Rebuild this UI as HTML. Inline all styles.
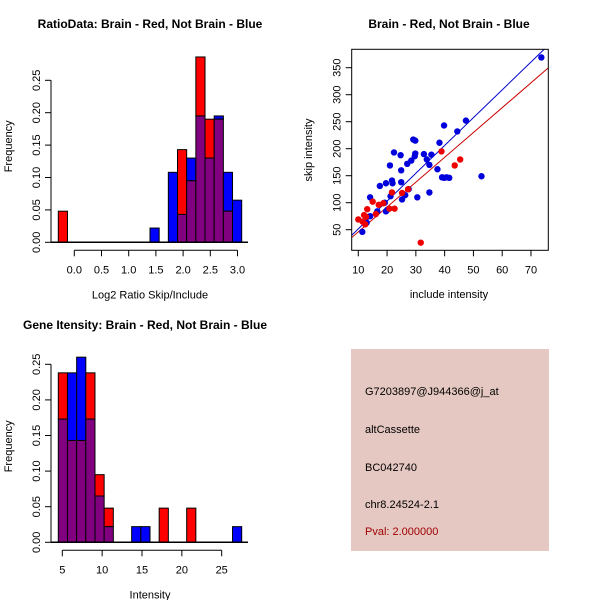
<!DOCTYPE html>
<html><head><meta charset="utf-8"><style>
body{margin:0;background:#fff}
svg{display:block;font-family:"Liberation Sans",sans-serif}
</style></head><body>
<svg id="chart" width="600" height="600" xmlns="http://www.w3.org/2000/svg">
<rect width="600" height="600" fill="#fff"/>
<g id="p1"></g>
<g id="p2"></g>
<g id="p3"></g>
<g>
<rect x="351" y="349" width="198" height="202" fill="#e6c8c2"/>
<g font-size="11" fill="#000">
<text x="365" y="395">G7203897@J944366@j_at</text>
<text x="365" y="433">altCassette</text>
<text x="365" y="471">BC042740</text>
<text x="365" y="508">chr8.24524-2.1</text>
<text x="365" y="535" fill="#a00000">Pval: 2.000000</text>
</g></g>
</svg>
<script>
// Ratio histogram data (bin index -> frequency)
const ratioBins = [0,1,2,3,4,5,6,7,8,9,10,11,12,13,14,15,16,17,18,19];
const ratioRed = [0.048,0,0,0,0,0,0,0,0,0,0,0,0,0.143,0.095,0.286,0.19,0.19,0.048,0];
const ratioBlue = [0,0,0,0,0,0,0,0,0,0,0.022,0,0.108,0.043,0.130,0.195,0.13,0.195,0.108,0.065];
const ratioXTicks = [0,0.5,1,1.5,2,2.5,3];
const ratioXTickLabels = ["0.0","0.5","1.0","1.5","2.0","2.5","3.0"];
const freqTicks = [0,0.05,0.1,0.15,0.2,0.25];
const freqTickLabels = ["0.00","0.05","0.10","0.15","0.20","0.25"];
// Intensity histogram data
const intBins = [0,1,2,3,4,5,6,7,8,9,10,11,12,13,14,15,16,17,18,19];
const intRed = [0.238,0.143,0.143,0.238,0.095,0.048,0,0,0,0,0,0.048,0,0,0.048,0,0,0,0,0];
const intBlue = [0.173,0.238,0.26,0.173,0.065,0.022,0,0,0.022,0.022,0,0,0,0,0,0,0,0,0,0.022];
const intXTicks = [5,10,15,20,25];
// Scatter data
const blueX = [11.4,14.1,16.6,17.5,19.6,19.6,20.1,21,21.7,21.9,22.4,21.2,24.7,24.9,24.9,25.2,26.3,27,28.4,29.1,29.8,29.6,29.8,30.5,32.8,33.8,34.7,34.7,35.4,37.5,38.2,39.1,39.8,39.8,40.7,41.6,44.4,47.4,52.8,73.6,27.5,14.1,12.9,19.2];
const blueY = [46,110,84,131,136,84,87,169,141,136,193,112,188,160,138,106,114,172,178,217,215,186,191,110,190,180,170,119,189,162,211,147,243,146,147,146,232,252,149,369,125,75,63,100];
const redX = [10,11.5,12,12.7,13.1,15,16.1,17.1,18.7,20.8,22.6,21.7,25.2,27.3,31.7,38.9,43.5,45.4,12.4];
const redY = [69,65,77,74,88,102,79,96,99,89,89,119,118,125,26,195,169,180,60];
const blueSlope = [5.15];
const redSlope = [4.6];
const scXTicks = [10,20,30,40,50,60,70];
const scYTicks = [50,100,150,200,250,300,350];

const NS="http://www.w3.org/2000/svg";
function mk(parent,tag,attrs,txt){const e=document.createElementNS(NS,tag);for(const k in attrs)e.setAttribute(k,attrs[k]);if(txt!==undefined)e.textContent=txt;parent.appendChild(e);return e;}

function hist(g,o){
  const bx=i=>o.x0+i*o.bw;
  const yv=v=>o.y0-v*o.ys;
  for(let i=0;i<o.bins.length;i++){
    const b=o.bins[i],r=o.red[i],u=o.blue[i];
    const mn=Math.min(r,u),mx=Math.max(r,u);
    if(mx>0&&mx>mn){
      const e=mk(g,'rect',{x:bx(b),y:yv(mx),width:o.bw,height:yv(mn)-yv(mx),fill:r>u?'#ff0000':'#0000ff',stroke:'#000','stroke-width':1});
      
      
    }
    if(mn>0){
      const e=mk(g,'rect',{x:bx(b),y:yv(mn),width:o.bw,height:yv(0)-yv(mn),fill:'#800080',stroke:'#000','stroke-width':1});
      
      
    }
  }
  const base=mk(g,'line',{x1:51,x2:248,y1:o.y0,y2:o.y0,stroke:'#000','stroke-width':1.5});
  
  
  // y axis
  const ya=mk(g,'g',{});
  
  
  mk(ya,'line',{x1:51,x2:51,y1:yv(0),y2:yv(freqTicks[freqTicks.length-1]),stroke:'#000'});
  freqTicks.forEach((t,i)=>{
    mk(ya,'line',{x1:45,x2:51,y1:yv(t),y2:yv(t),stroke:'#000'});
    const tx=mk(ya,'text',{x:0,y:0,'font-size':11,'text-anchor':'middle',transform:`translate(40,${yv(t)}) rotate(-90)`},freqTickLabels[i]);
    
    
  });
  // x axis
  const xa=mk(g,'g',{});
  
  
  const xv=v=>o.xa+(v-o.xt[0])*o.xs;
  const ay=o.y0+8;
  mk(xa,'line',{x1:xv(o.xt[0]),x2:xv(o.xt[o.xt.length-1]),y1:ay,y2:ay,stroke:'#000'});
  o.xt.forEach((t,i)=>{
    mk(xa,'line',{x1:xv(t),x2:xv(t),y1:ay,y2:ay+6,stroke:'#000'});
    const tx=mk(xa,'text',{x:xv(t),y:ay+23,'font-size':11,'text-anchor':'middle'},o.xl[i]);
    
    
  });
  const xt=mk(g,'text',{x:150,y:ay+48,'font-size':11,'text-anchor':'middle'},o.xlabel);
  
  
  const yt=mk(g,'text',{x:0,y:0,'font-size':11,'text-anchor':'middle',transform:`translate(12,${o.y0-96}) rotate(-90)`},'Frequency');
  
  
  const tt=mk(g,'text',{x:o.tx,y:o.ty,'font-size':12,'font-weight':'bold','text-anchor':'middle'},o.title);
  
  
}

hist(document.getElementById('p1'),{bins:ratioBins,red:ratioRed,blue:ratioBlue,x0:58.3,bw:9.17,y0:242.3,ys:648,xa:74.3,xs:54.4,xt:ratioXTicks,xl:ratioXTickLabels,xlabel:'Log2 Ratio Skip/Include',title:'RatioData: Brain - Red, Not Brain - Blue',tx:150,ty:28});
hist(document.getElementById('p3'),{bins:intBins,red:intRed,blue:intBlue,x0:58.3,bw:9.17,y0:542.3,ys:712,xa:62.3,xs:7.97,xt:intXTicks,xl:intXTicks.map(String),xlabel:'Intensity',title:'Gene Itensity: Brain - Red, Not Brain - Blue',tx:145,ty:329});

// scatter
(function(){
  const g=document.getElementById('p2');
  const L=351.7,R=548.3,T=49.3,B=250.3;
  const xs=v=>358.3+(v-10)*2.878;
  const ys=v=>229.7-(v-50)*0.54;
  const clip=mk(g,'clipPath',{id:'sc'});mk(clip,'rect',{x:L,y:T,width:R-L,height:B-T});
  const xmin=(L-358.3)/2.878+10,xmax=(R-358.3)/2.878+10;
  const bl=mk(g,'line',{x1:xs(xmin),y1:ys(blueSlope[0]*xmin),x2:xs(xmax),y2:ys(blueSlope[0]*xmax),stroke:'#0000cc','clip-path':'url(#sc)'});
  
  
  const rl=mk(g,'line',{x1:xs(xmin),y1:ys(redSlope[0]*xmin),x2:xs(xmax),y2:ys(redSlope[0]*xmax),stroke:'#cc0000','clip-path':'url(#sc)'});
  
  
  blueX.forEach((x,i)=>{const c=mk(g,'circle',{cx:xs(x),cy:ys(blueY[i]),r:3.2,fill:'#0000dd'});
    
    });
  redX.forEach((x,i)=>{const c=mk(g,'circle',{cx:xs(x),cy:ys(redY[i]),r:3.2,fill:'#ee0000'});
    
    });
  const box=mk(g,'rect',{x:L,y:T,width:R-L,height:B-T,fill:'none',stroke:'#000'});
  
  
  scXTicks.forEach(t=>{mk(g,'line',{x1:xs(t),x2:xs(t),y1:B,y2:B+6,stroke:'#000'});
    const tx=mk(g,'text',{x:xs(t),y:B+23,'font-size':11,'text-anchor':'middle'},String(t));
    
    });
  scYTicks.forEach(t=>{mk(g,'line',{x1:L-6,x2:L,y1:ys(t),y2:ys(t),stroke:'#000'});
    const tx=mk(g,'text',{x:0,y:0,'font-size':11,'text-anchor':'middle',transform:`translate(${L-11},${ys(t)}) rotate(-90)`},String(t));
    
    });
  const xt=mk(g,'text',{x:449,y:298,'font-size':11,'text-anchor':'middle'},'include intensity');
  
  
  const yt=mk(g,'text',{x:0,y:0,'font-size':11,'text-anchor':'middle',transform:'translate(312,150) rotate(-90)'},'skip intensity');
  
  
  const tt=mk(g,'text',{x:449,y:28,'font-size':12,'font-weight':'bold','text-anchor':'middle'},'Brain - Red, Not Brain - Blue');
  
  
})();
</script>
</body></html>
